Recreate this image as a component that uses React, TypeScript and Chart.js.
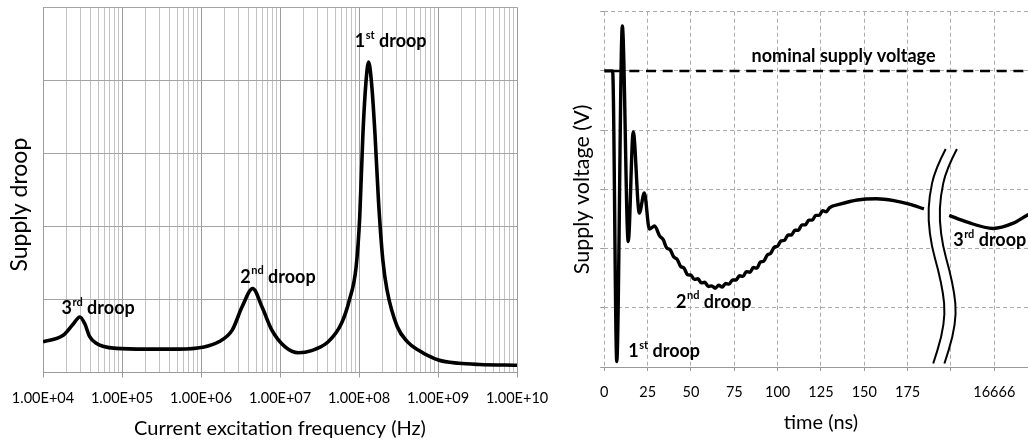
import React, { useEffect, useRef } from 'react';
import { Chart, registerables } from 'chart.js';

Chart.register(...registerables);

const FONT = 'Lato, "Open Sans", sans-serif';

// ---------- Left panel: frequency response ----------
const freqHz = [
  1e4, 1.8e4, 2.4e4, 2.92e4, 3.37e4, 3.9e4, 4.73e4, 5.73e4, 8.45e4, 2.01e5,
  5.28e5, 1.04e6, 1.68e6, 2.48e6, 3.31e6, 4.51e6, 5.9e6, 7.88e6, 1.16e7, 1.71e7,
  2.51e7, 4.07e7, 5.98e7, 7.53e7, 9.19e7, 1.02e8, 1.12e8, 1.22e8, 1.32e8, 1.44e8,
  1.59e8, 1.76e8, 2.0e8, 2.26e8, 3.04e8, 4.11e8, 5.54e8, 1.01e9, 1.83e9, 3.33e9, 1e10,
];
const supplyDroop = [
  0.42, 0.51, 0.66, 0.76, 0.67, 0.49, 0.40, 0.36, 0.33, 0.32,
  0.32, 0.345, 0.42, 0.58, 0.90, 1.15, 0.90, 0.58, 0.35, 0.27,
  0.30, 0.42, 0.67, 0.99, 1.45, 2.13, 3.27, 3.96, 4.25, 3.96,
  3.27, 2.36, 1.54, 1.13, 0.63, 0.42, 0.31, 0.17, 0.126, 0.11, 0.10,
];
const decadeValues = [1e4, 1e5, 1e6, 1e7, 1e8, 1e9, 1e10];
const decadeTickLabels = ['1.00E+04', '1.00E+05', '1.00E+06', '1.00E+07', '1.00E+08', '1.00E+09', '1.00E+10'];
const minorMultipliers = [1, 2, 3, 4, 5, 6, 7, 8, 9];

// ---------- Right panel: time response ----------
const timeNs = [
  0, 4.8, 7.2, 10.4, 13.8, 16.7, 20.2, 23.1, 26, 29,
  32, 34, 36, 38, 40, 42, 44, 46, 48, 50,
  52, 54, 56, 58, 60, 62, 64, 66, 68, 70,
  72, 74, 76, 78, 80, 82, 84, 86, 88, 90,
  92, 94, 96, 98, 100, 102, 104, 106, 108, 110,
  112, 114, 116, 118, 120, 122, 124, 126, 128, 130,
  136, 146, 157, 167, 176, 184.4,
  192,
  199, 209, 224.4, 236, 244.5, 252,
];
const supplyVolt = [
  5.0, 5.0, 0.09, 5.76, 2.12, 3.97, 2.6, 2.94, 2.33, 2.38,
  2.21, 2.15, 2.01, 1.98, 1.86, 1.82, 1.70, 1.67, 1.56, 1.55,
  1.48, 1.49, 1.42, 1.43, 1.36, 1.37, 1.33, 1.38, 1.35, 1.41,
  1.40, 1.47, 1.47, 1.54, 1.53, 1.61, 1.60, 1.68, 1.67, 1.77,
  1.79, 1.89, 1.92, 2.02, 2.04, 2.13, 2.14, 2.23, 2.23, 2.31,
  2.31, 2.40, 2.40, 2.48, 2.48, 2.56, 2.56, 2.64, 2.62, 2.69,
  2.75, 2.82, 2.84, 2.81, 2.75, 2.67,
  null,
  2.56, 2.45, 2.34, 2.43, 2.57, 2.66,
];
const nominalVoltage = 5;
const timeTickLabels = ['0', '25', '50', '75', '100', '125', '150', '175', '', '16666', ''];

// axis-break symbol centre line (time ns, volts)
const breakT = [200.2, 194.0, 190.7, 190.1, 192.1, 195.9, 198.8, 199.8, 197.9, 193.0];
const breakV = [3.68, 3.33, 2.88, 2.48, 2.03, 1.64, 1.24, 0.91, 0.51, 0.06];

type Note = { x: number; y: number; base: string; sup: string; rest: string; size: number };

const leftNotes: Note[] = [
  { x: 8.83e7, y: 4.54, base: '1', sup: 'st', rest: ' droop', size: 18 },
  { x: 3.14e6, y: 1.31, base: '2', sup: 'nd', rest: ' droop', size: 18 },
  { x: 1.72e4, y: 0.88, base: '3', sup: 'rd', rest: ' droop', size: 18 },
];
const rightNotes: Note[] = [
  { x: 85.0, y: 5.25, base: 'nominal supply voltage', sup: '', rest: '', size: 18 },
  { x: 41.4, y: 1.10, base: '2', sup: 'nd', rest: ' droop', size: 18 },
  { x: 13.8, y: 0.27, base: '1', sup: 'st', rest: ' droop', size: 18 },
  { x: 201.3, y: 2.14, base: '3', sup: 'rd', rest: ' droop', size: 18 },
];

function notesPlugin(id: string, notes: Note[]) {
  return {
    id,
    afterDatasetsDraw(chart: any) {
      const { ctx, scales } = chart;
      ctx.save();
      ctx.fillStyle = '#000';
      ctx.textBaseline = 'middle';
      ctx.textAlign = 'left';
      for (const n of notes) {
        let px = scales.x.getPixelForValue(n.x);
        const py = scales.y.getPixelForValue(n.y);
        const big = `bold ${n.size}px ${FONT}`;
        const small = `bold ${Math.round(n.size * 0.62)}px ${FONT}`;
        if (n.base) {
          ctx.font = big;
          ctx.fillText(n.base, px, py);
          px += ctx.measureText(n.base).width;
        }
        if (n.sup) {
          ctx.font = small;
          ctx.fillText(n.sup, px + 0.5, py - n.size * 0.33);
          px += ctx.measureText(n.sup).width + 0.5;
        }
        if (n.rest) {
          ctx.font = big;
          ctx.fillText(n.rest, px, py);
        }
      }
      ctx.restore();
    },
  };
}

const breakPlugin = {
  id: 'axisBreak',
  afterDatasetsDraw(chart: any) {
    const { ctx, scales } = chart;
    const pts = breakT.map((t, i) => ({ x: scales.x.getPixelForValue(t), y: scales.y.getPixelForValue(breakV[i]) }));
    const path = (dx: number) => {
      ctx.beginPath();
      ctx.moveTo(pts[0].x + dx, pts[0].y);
      for (let i = 1; i < pts.length - 1; i++) {
        const mx = (pts[i].x + pts[i + 1].x) / 2 + dx;
        const my = (pts[i].y + pts[i + 1].y) / 2;
        ctx.quadraticCurveTo(pts[i].x + dx, pts[i].y, mx, my);
      }
      const last = pts[pts.length - 1];
      ctx.lineTo(last.x + dx, last.y);
    };
    ctx.save();
    ctx.lineCap = 'butt';
    ctx.strokeStyle = '#fff';
    ctx.lineWidth = 10;
    path(0);
    ctx.stroke();
    ctx.strokeStyle = '#000';
    ctx.lineWidth = 2;
    path(-5.6);
    ctx.stroke();
    path(5.6);
    ctx.stroke();
    ctx.restore();
  },
};

const isDecade = (v: number) => decadeValues.some((d) => Math.abs(v / d - 1) < 1e-6);

function leftConfig(): any {
  const gridValues: number[] = [];
  decadeValues.forEach((d, i) => {
    if (i === decadeValues.length - 1) gridValues.push(d);
    else minorMultipliers.forEach((m) => gridValues.push(d * m));
  });
  return {
    type: 'line',
    data: {
      datasets: [
        {
          data: freqHz.map((f, i) => ({ x: f, y: supplyDroop[i] })),
          borderColor: '#000',
          borderWidth: 3.6,
          pointRadius: 0,
          cubicInterpolationMode: 'monotone',
          fill: false,
        },
      ],
    },
    options: {
      responsive: false,
      animation: false,
      devicePixelRatio: 1,
      layout: { padding: { top: 7.3, right: 40, bottom: 0, left: 0 } },
      plugins: { legend: { display: false }, tooltip: { enabled: false } },
      scales: {
        x: {
          type: 'logarithmic',
          min: 1e4,
          max: 1e10,
          afterBuildTicks: (s: any) => {
            s.ticks = gridValues.map((v) => ({ value: v }));
          },
          afterFit: (s: any) => {
            s.height = 442 - 372.5;
          },
          ticks: {
            autoSkip: false,
            maxRotation: 0,
            minRotation: 0,
            padding: 11.8,
            color: '#000',
            font: { family: FONT, size: 14.5 },
            callback: (v: number) => {
              const idx = decadeValues.findIndex((d) => Math.abs(v / d - 1) < 1e-6);
              return idx >= 0 ? decadeTickLabels[idx] : '';
            },
          },
          grid: {
            color: (c: any) => (c.tick && isDecade(c.tick.value) ? '#9c9c9c' : '#c2c2c2'),
            tickLength: 5,
            tickColor: (c: any) => (c.tick && isDecade(c.tick.value) ? '#9c9c9c' : 'rgba(0,0,0,0)'),
          },
          border: { color: '#9c9c9c' },
          title: {
            display: true,
            text: 'Current excitation frequency (Hz)',
            color: '#000',
            font: { family: FONT, size: 20 },
            padding: { top: 0, bottom: 1.6 },
          },
        },
        y: {
          min: 0,
          max: 5,
          ticks: { display: false, stepSize: 1 },
          afterFit: (s: any) => {
            s.width = 43;
          },
          grid: { color: '#a4a4a4', drawTicks: false },
          border: { color: '#9c9c9c' },
          title: {
            display: true,
            text: 'Supply droop     ',
            color: '#000',
            font: { family: FONT, size: 23 },
            padding: { top: 6.2, bottom: 0 },
          },
        },
      },
    },
    plugins: [notesPlugin('leftNotes', leftNotes)],
  };
}

function rightConfig(): any {
  return {
    type: 'line',
    data: {
      datasets: [
        {
          data: timeNs.map((t, i) => ({ x: t, y: supplyVolt[i] })),
          borderColor: '#000',
          borderWidth: 3.4,
          pointRadius: 0,
          cubicInterpolationMode: 'monotone',
          spanGaps: false,
          fill: false,
        },
        {
          data: [
            { x: 0, y: nominalVoltage },
            { x: 250, y: nominalVoltage },
          ],
          borderColor: '#000',
          borderWidth: 2.5,
          borderDash: [10, 6.7],
          borderDashOffset: 8.4,
          pointRadius: 0,
          fill: false,
        },
      ],
    },
    options: {
      responsive: false,
      animation: false,
      devicePixelRatio: 1,
      layout: { padding: { top: 11.7, right: 22.4, bottom: 0, left: 0 } },
      plugins: { legend: { display: false }, tooltip: { enabled: false } },
      scales: {
        x: {
          type: 'linear',
          min: 0,
          max: 250,
          afterFit: (s: any) => {
            s.height = 75;
          },
          ticks: {
            stepSize: 25,
            autoSkip: false,
            maxRotation: 0,
            minRotation: 0,
            padding: 12.3,
            color: '#000',
            font: { family: FONT, size: 14.5 },
            callback: (_v: number, i: number) => timeTickLabels[i] ?? '',
          },
          grid: { color: '#ababab', tickLength: 4, tickColor: '#999', tickBorderDash: [] },
          border: { color: '#999', dash: [4, 3] },
          title: {
            display: true,
            text: 'time (ns)',
            color: '#000',
            font: { family: FONT, size: 20 },
            padding: { top: 0, bottom: 7.3 },
          },
        },
        y: {
          min: 0,
          max: 6,
          ticks: { display: false, stepSize: 1 },
          afterFit: (s: any) => {
            s.width = 44.3;
          },
          grid: { color: '#ababab', tickLength: 4, tickColor: '#999', tickBorderDash: [] },
          border: { display: false, dash: [4, 3] },
          title: {
            display: true,
            text: 'Supply voltage (V)',
            color: '#000',
            font: { family: FONT, size: 21.5 },
            padding: { top: 8.8, bottom: 0 },
          },
        },
      },
    },
    plugins: [breakPlugin, notesPlugin('rightNotes', rightNotes)],
  };
}

export default function App() {
  const leftRef = useRef<HTMLCanvasElement>(null);
  const rightRef = useRef<HTMLCanvasElement>(null);
  useEffect(() => {
    const c1 = new Chart(leftRef.current as HTMLCanvasElement, leftConfig());
    const c2 = new Chart(rightRef.current as HTMLCanvasElement, rightConfig());
    return () => {
      c1.destroy();
      c2.destroy();
    };
  }, []);
  return (
    <div
      style={{
        position: 'fixed',
        left: 0,
        top: 0,
        width: 1028,
        height: 442,
        overflow: 'hidden',
        background: '#fff',
      }}
    >
      <canvas ref={leftRef} width={560} height={442} style={{ position: 'absolute', left: 0, top: 0 }} />
      <canvas ref={rightRef} width={500} height={442} style={{ position: 'absolute', left: 560, top: 0 }} />
    </div>
  );
}
